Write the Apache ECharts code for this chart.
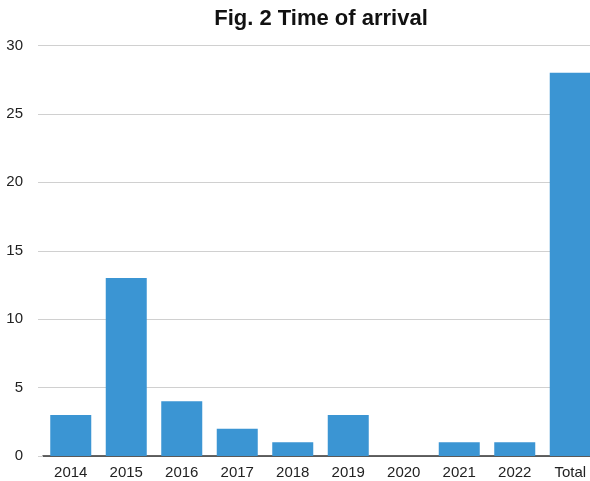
<!DOCTYPE html>
<html>
<head>
<meta charset="utf-8">
<script src="https://cdn.jsdelivr.net/npm/echarts@6/dist/echarts.min.js"></script>
<style>
  html, body { margin: 0; padding: 0; background: #fff; }
  #chart { width: 590px; height: 481px; }
</style>
</head>
<body>
<div id="chart"></div>
<script>
// Arrivals per year, plus the overall total
const categories = ['2014', '2015', '2016', '2017', '2018', '2019', '2020', '2021', '2022', 'Total'];
const arrivals = [3, 13, 4, 2, 1, 3, 0, 1, 1, 28];
const yTicks = [0, 5, 10, 15, 20, 25, 30];

const chart = echarts.init(document.getElementById('chart'), null, { renderer: 'canvas' });
const font = '"Liberation Sans", Arial, Helvetica, sans-serif';

chart.setOption({
  animation: false,
  title: {
    text: 'Fig. 2 Time of arrival',
    left: 316,
    textAlign: 'center',
    top: 3,
    textStyle: { fontFamily: font, fontWeight: 'bold', fontSize: 22, color: '#111' }
  },
  // the plot runs a little past the right edge of the canvas
  grid: { left: 43, right: -8, top: 45.5, bottom: 25, outerBoundsMode: 'none', containLabel: false },
  xAxis: {
    type: 'category',
    data: categories,
    axisLine: { lineStyle: { color: '#333', width: 1.5 } },
    axisTick: { show: false },
    axisLabel: { fontFamily: font, fontSize: 15, color: '#222', margin: 9 }
  },
  yAxis: {
    type: 'value',
    min: yTicks[0],
    max: yTicks[yTicks.length - 1],
    interval: 5,
    axisLine: { show: false },
    axisTick: { show: true, length: 5, lineStyle: { color: '#d0d0d0' } },
    splitLine: { lineStyle: { color: '#d0d0d0', width: 1 } },
    axisLabel: { fontFamily: font, fontSize: 15, color: '#222', margin: 20 }
  },
  series: [{
    type: 'bar',
    data: arrivals,
    barWidth: 41,
    itemStyle: { color: '#3b95d3' }
  }]
});
</script>
</body>
</html>
